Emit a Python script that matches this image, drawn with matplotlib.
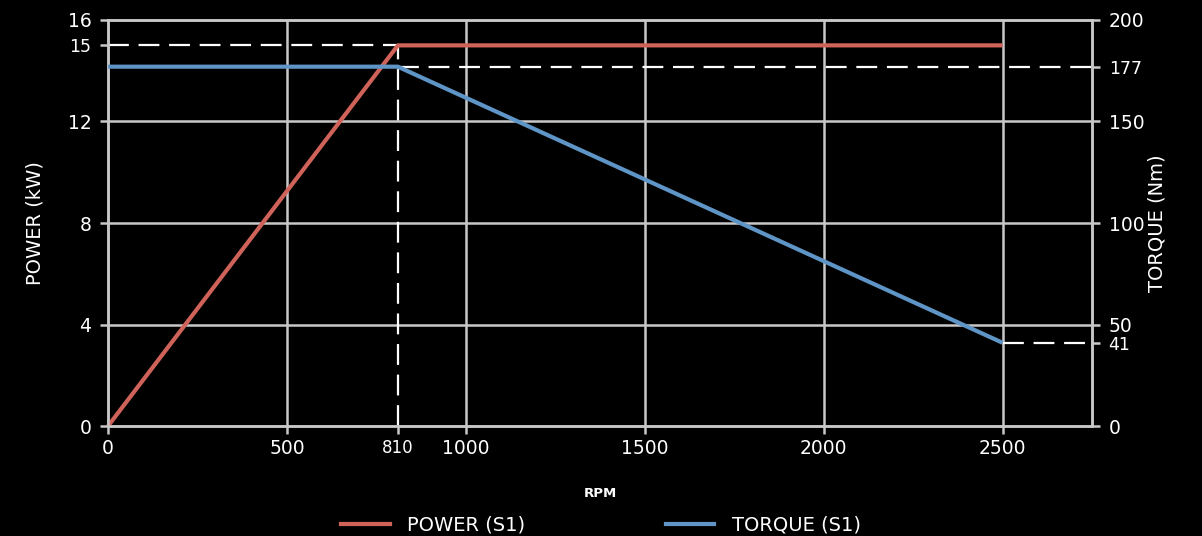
import matplotlib
matplotlib.use("Agg")
import matplotlib.pyplot as plt
from matplotlib.lines import Line2D

plt.rcParams['font.family'] = ['DejaVu Sans']
plt.rcParams['lines.scale_dashes'] = False

# data
rpm_power = [0, 810, 2500]
power_kw = [0, 15, 15]
rpm_torque = [0, 810, 2500]
torque_nm = [177, 177, 41]

x_ticks = [0, 500, 810, 1000, 1500, 2000, 2500]
x_grid = [500, 1000, 1500, 2000, 2500]
left_ticks = [0, 4, 8, 12, 15, 16]
left_grid = [4, 8, 12]
right_ticks = [0, 41, 50, 100, 150, 177, 200]

base_speed = 810
rated_power = 15
max_torque = 177
end_rpm = 2500
end_torque = 41

power_color = '#cf6259'
torque_color = '#5e95c6'
grid_color = '#c8c8c8'
bg = '#000000'
txt = '#ffffff'

fig = plt.figure(figsize=(12.02, 5.36), dpi=100, facecolor=bg)
ax = fig.add_axes([0.0899, 0.2052, 0.8186, 0.7575], facecolor=bg)
ax2 = ax.twinx()

ax.set_xlim(0, 2750)
ax.set_ylim(0, 16)
ax2.set_ylim(0, 200)

for a in (ax, ax2):
    for s in a.spines.values():
        s.set_color(grid_color)
        s.set_linewidth(1.8)

for xv in x_grid:
    ax.axvline(xv, color=grid_color, lw=1.8, zorder=1)
for yv in left_grid:
    ax.axhline(yv, color=grid_color, lw=1.8, zorder=1)

dash = (0, (15, 7))
ax.plot([0, base_speed], [rated_power, rated_power], color='white', lw=1.6,
        linestyle=dash, zorder=2, clip_on=False)
ax.plot([base_speed, base_speed], [0, rated_power], color='white', lw=1.6,
        linestyle=dash, zorder=2)
ax2.plot([base_speed, 2750], [max_torque, max_torque], color='white', lw=1.6,
         linestyle=dash, zorder=2)
ax2.plot([end_rpm, 2750], [end_torque, end_torque], color='white', lw=1.6,
         linestyle=dash, zorder=2)

ax.plot(rpm_power, power_kw, color=power_color, lw=3.0, zorder=5,
        solid_capstyle='butt', clip_on=False)
ax2.plot(rpm_torque, torque_nm, color=torque_color, lw=3.0, zorder=5,
         solid_capstyle='butt', clip_on=False)

ax.set_xticks(x_ticks)
ax.set_xticklabels([str(v) for v in x_ticks])
ax.set_yticks(left_ticks)
ax.set_yticklabels([str(v) for v in left_ticks])
ax2.set_yticks(right_ticks)
ax2.set_yticklabels([str(v) for v in right_ticks])

ax.tick_params(axis='y', colors=grid_color, labelcolor=txt, labelsize=13.5,
               length=6, width=1.8, pad=6)
ax.tick_params(axis='x', colors=grid_color, labelcolor=txt, labelsize=13.5,
               length=6, width=1.8, pad=3)
ax2.tick_params(axis='y', colors=grid_color, labelcolor=txt, labelsize=13.5,
                length=6, width=1.8, pad=6)
for lab in ax.get_xticklabels():
    if lab.get_text() == '810':
        lab.set_fontsize(12)
for lab in ax.get_yticklabels() + ax2.get_yticklabels():
    if lab.get_text() in ('15', '177', '41'):
        lab.set_fontsize(12.5)

ax.set_xlabel('RPM', color=txt, fontsize=9.5, fontweight='bold', labelpad=21)
ax.set_ylabel('POWER (kW)', color=txt, fontsize=14, labelpad=17)
ax2.set_ylabel('TORQUE (Nm)', color=txt, fontsize=14, labelpad=2)

handles = [Line2D([], [], color=power_color, lw=3.0),
           Line2D([], [], color=torque_color, lw=3.0)]
leg = fig.legend(handles, ['POWER (S1)', 'TORQUE (S1)'], loc='lower center',
                 bbox_to_anchor=(0.5, -0.03), ncol=2, frameon=False,
                 fontsize=14, handlelength=2.5, columnspacing=7.2,
                 handletextpad=0.9, labelcolor=txt)

fig.savefig('out.png', dpi=100, facecolor=bg)
